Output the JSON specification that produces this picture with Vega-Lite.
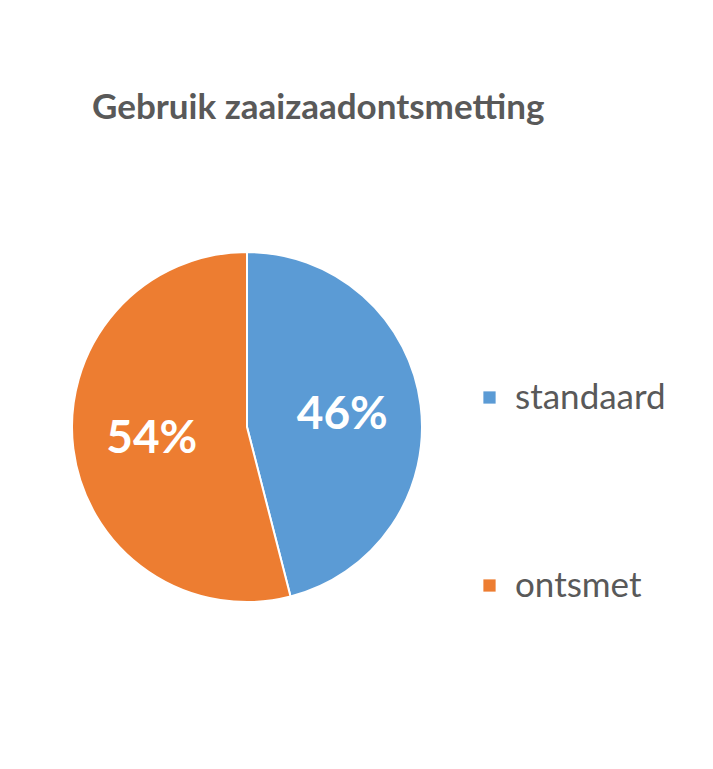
{
  "$schema": "https://vega.github.io/schema/vega-lite/v6.json",
  "autosize": {"type": "none"},
  "padding": {"left": 72, "top": 252, "right": 291, "bottom": 167},
  "width": 350,
  "height": 350,
  "background": "white",
  "title": {
    "text": "Gebruik zaaizaadontsmetting",
    "anchor": "start",
    "frame": "group",
    "dx": 20,
    "offset": 94,
    "font": "Lato",
    "fontSize": 35,
    "fontWeight": "bold",
    "color": "#595959",
    "baseline": "alphabetic"
  },
  "data": {
    "values": [
      {"categorie": "standaard", "aandeel": 46, "label": "46%", "volgorde": 1},
      {"categorie": "ontsmet", "aandeel": 54, "label": "54%", "volgorde": 2}
    ]
  },
  "encoding": {
    "theta": {"field": "aandeel", "type": "quantitative", "stack": true},
    "order": {"field": "volgorde", "type": "quantitative"},
    "color": {
      "field": "categorie",
      "type": "nominal",
      "scale": {"domain": ["standaard", "ontsmet"], "range": ["#5B9BD5", "#ED7D31"]},
      "legend": {
        "title": null,
        "orient": "none",
        "legendX": 400,
        "legendY": 128,
        "symbolType": "square",
        "symbolSize": 150,
        "symbolStrokeWidth": 0,
        "labelFont": "Lato",
        "labelFontSize": 35,
        "labelColor": "#595959",
        "labelOffset": 8,
        "rowPadding": 152,
        "labelLimit": 300
      }
    }
  },
  "layer": [
    {
      "mark": {"type": "arc", "outerRadius": 175, "stroke": "white", "strokeWidth": 2}
    },
    {
      "mark": {"type": "text", "radius": 96, "font": "Lato", "fontSize": 46, "fontWeight": "bold", "fill": "white"},
      "encoding": {
        "text": {"field": "label", "type": "nominal"},
        "color": {"value": "white"}
      }
    }
  ],
  "config": {"view": {"stroke": null}}
}
